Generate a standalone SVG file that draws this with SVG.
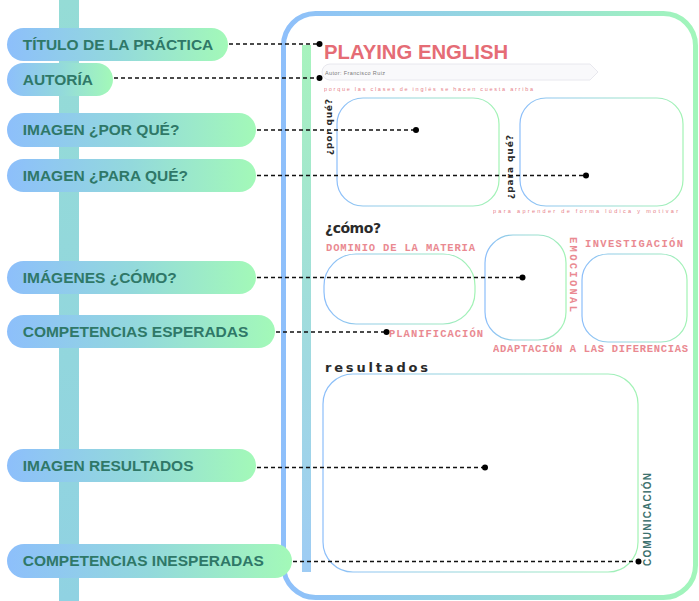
<svg xmlns="http://www.w3.org/2000/svg" width="699" height="601" viewBox="0 0 699 601">
  <defs>
    <linearGradient id="pillGrad" x1="0" y1="0" x2="1" y2="0">
      <stop offset="0" stop-color="#8dbffb"/>
      <stop offset="0.5" stop-color="#93d9dc"/>
      <stop offset="1" stop-color="#a3f9b8"/>
    </linearGradient>
    <linearGradient id="cardGrad" gradientUnits="userSpaceOnUse" x1="281" y1="0" x2="698" y2="0">
      <stop offset="0" stop-color="#8ebffb"/>
      <stop offset="0.5" stop-color="#95d8de"/>
      <stop offset="1" stop-color="#a2f6ba"/>
    </linearGradient>
    <linearGradient id="boxGrad" x1="0" y1="0" x2="1" y2="0">
      <stop offset="0" stop-color="#8cbefa"/>
      <stop offset="1" stop-color="#a2f3b4"/>
    </linearGradient>
    <linearGradient id="sideGrad" x1="0" y1="0" x2="0" y2="1">
      <stop offset="0" stop-color="#9ef2b6"/>
      <stop offset="0.5" stop-color="#96d9d8"/>
      <stop offset="1" stop-color="#93c6f3"/>
    </linearGradient>
    <linearGradient id="railGrad" x1="0" y1="0" x2="0" y2="1">
      <stop offset="0" stop-color="#95dcd6"/>
      <stop offset="1" stop-color="#90d2e2"/>
    </linearGradient>
    <style>
      .pill { fill: url(#pillGrad); }
      .pill-text { font-family: "Liberation Sans", Arial, sans-serif; font-weight: bold; font-size: 15.5px; fill: #2f7868; }
      .box { fill: #ffffff; stroke: url(#boxGrad); stroke-width: 1.2; }
      .link { stroke: #111; stroke-width: 1.3; stroke-dasharray: 4 3; fill: none; }
      .dot { fill: #000; }
      .hand { font-family: "DejaVu Sans", sans-serif; font-weight: bold; fill: #2a2a2a; }
      .red-small { font-family: "Liberation Sans", Arial, sans-serif; font-size: 5.5px; fill: #e36a73; opacity: 0.85; }
      .red-label { font-family: "Liberation Mono", "DejaVu Sans Mono", monospace; font-weight: bold; font-size: 10.5px; fill: #e87d86; opacity: 0.9; }
    </style>
  </defs>

  <rect width="699" height="601" fill="#ffffff"/>

  <!-- vertical rail behind the labels -->
  <rect x="59" y="0" width="20" height="601" fill="url(#railGrad)"/>

  <!-- practice sheet -->
  <g id="sheet">
    <rect x="283.5" y="13.5" width="412" height="584" rx="32" fill="#ffffff" stroke="url(#cardGrad)" stroke-width="5"/>
    <rect x="302" y="45" width="9" height="527" fill="url(#sideGrad)" opacity="0.9"/>

    <text x="324" y="59" font-family="Liberation Sans, Arial, sans-serif" font-weight="bold" font-size="20.3" fill="#e56c75">PLAYING ENGLISH</text>

    <path d="M330 64 H590 L598 72 L590 80 H330 A8 8 0 0 1 330 64 Z" fill="#f9f9fb" stroke="#e8e8ee" stroke-width="1"/>
    <text x="325" y="75" font-family="Liberation Sans, Arial, sans-serif" font-size="5.5" fill="#7a7a7a" textLength="60">Autor: Francisco Ruiz</text>
    <text x="324" y="91" class="red-small" textLength="209">porque las clases de inglés se hacen cuesta arriba</text>

    <!-- ¿por qué? / ¿para qué? -->
    <rect id="box-porque" x="337" y="98" width="162" height="108" rx="26" class="box"/>
    <rect id="box-paraque" x="520" y="98" width="163" height="108" rx="26" class="box"/>
    <text class="hand" font-size="9" transform="translate(332 127) rotate(-90)" text-anchor="middle" textLength="56">¿por qué?</text>
    <text class="hand" font-size="9" transform="translate(513 167) rotate(-90)" text-anchor="middle" textLength="64">¿para qué?</text>
    <text x="493" y="213" class="red-small" textLength="185">para aprender de forma lúdica y motivar</text>

    <!-- ¿cómo? -->
    <text x="325" y="233" class="hand" font-size="14" textLength="56">¿cómo?</text>
    <text x="326" y="251" class="red-label" textLength="149">DOMINIO DE LA MATERIA</text>
    <rect id="box-como-1" x="324" y="254" width="151" height="70" rx="32" class="box"/>
    <rect id="box-como-2" x="485" y="235" width="81" height="105" rx="28" class="box"/>
    <rect id="box-como-3" x="582" y="254" width="105" height="88" rx="26" class="box"/>
    <text class="red-label" transform="translate(570 237) rotate(90)" textLength="75">EMOCIONAL</text>
    <text x="585" y="247" class="red-label" textLength="98">INVESTIGACIÓN</text>
    <text x="389" y="337" class="red-label" textLength="94">PLANIFICACIÓN</text>
    <text x="493" y="352" class="red-label" textLength="195">ADAPTACIÓN A LAS DIFERENCIAS</text>

    <!-- resultados -->
    <text x="325" y="372" class="hand" font-size="13" textLength="103">resultados</text>
    <rect id="box-resultados" x="323" y="374" width="315" height="198" rx="30" class="box"/>
    <text font-family="Liberation Sans, Arial, sans-serif" font-weight="bold" font-size="10" fill="#3d716e" transform="translate(651 566) rotate(-90)" textLength="93">COMUNICACIÓN</text>
  </g>

  <!-- labels -->
  <g id="label-titulo">
    <rect x="7" y="28" width="221" height="33" rx="16.5" class="pill"/>
    <text x="22.7" y="49.5" class="pill-text">TÍTULO DE LA PRÁCTICA</text>
  </g>
  <g id="label-autoria">
    <rect x="7" y="63" width="106" height="33" rx="16.5" class="pill"/>
    <text x="22.7" y="84.7" class="pill-text">AUTORÍA</text>
  </g>
  <g id="label-porque">
    <rect x="7" y="113" width="249" height="34" rx="17" class="pill"/>
    <text x="22.7" y="135.3" class="pill-text">IMAGEN ¿POR QUÉ?</text>
  </g>
  <g id="label-paraque">
    <rect x="7" y="159" width="249" height="33" rx="16.5" class="pill"/>
    <text x="22.7" y="180.8" class="pill-text">IMAGEN ¿PARA QUÉ?</text>
  </g>
  <g id="label-como">
    <rect x="7" y="261" width="249" height="33" rx="16.5" class="pill"/>
    <text x="22.7" y="282.8" class="pill-text">IMÁGENES ¿CÓMO?</text>
  </g>
  <g id="label-esperadas">
    <rect x="7" y="315" width="268" height="33" rx="16.5" class="pill"/>
    <text x="22.7" y="336.8" class="pill-text">COMPETENCIAS ESPERADAS</text>
  </g>
  <g id="label-resultados">
    <rect x="7" y="449" width="249" height="33" rx="16.5" class="pill"/>
    <text x="22.7" y="470.8" class="pill-text">IMAGEN RESULTADOS</text>
  </g>
  <g id="label-inesperadas">
    <rect x="7" y="544" width="285" height="34" rx="17" class="pill"/>
    <text x="22.7" y="566.3" class="pill-text">COMPETENCIAS INESPERADAS</text>
  </g>

  <!-- leader lines -->
  <g id="connectors">
    <path class="link" d="M229 44 H319"/>
    <circle class="dot" cx="319.5" cy="44" r="3"/>
    <path class="link" d="M114 78 H319"/>
    <circle class="dot" cx="319.5" cy="78" r="3"/>
    <path class="link" d="M257 130 H416"/>
    <circle class="dot" cx="416" cy="130" r="3"/>
    <path class="link" d="M257 175.5 H586"/>
    <circle class="dot" cx="586" cy="175.5" r="3"/>
    <path class="link" d="M257 277.5 H522"/>
    <circle class="dot" cx="522.5" cy="277.5" r="3"/>
    <path class="link" d="M276 332 H386"/>
    <circle class="dot" cx="386.5" cy="332" r="3"/>
    <path class="link" d="M257 467.5 H485"/>
    <circle class="dot" cx="485" cy="467.5" r="3"/>
    <path class="link" d="M293 561.5 H638"/>
    <circle class="dot" cx="638.5" cy="561.5" r="3"/>
  </g>
</svg>
